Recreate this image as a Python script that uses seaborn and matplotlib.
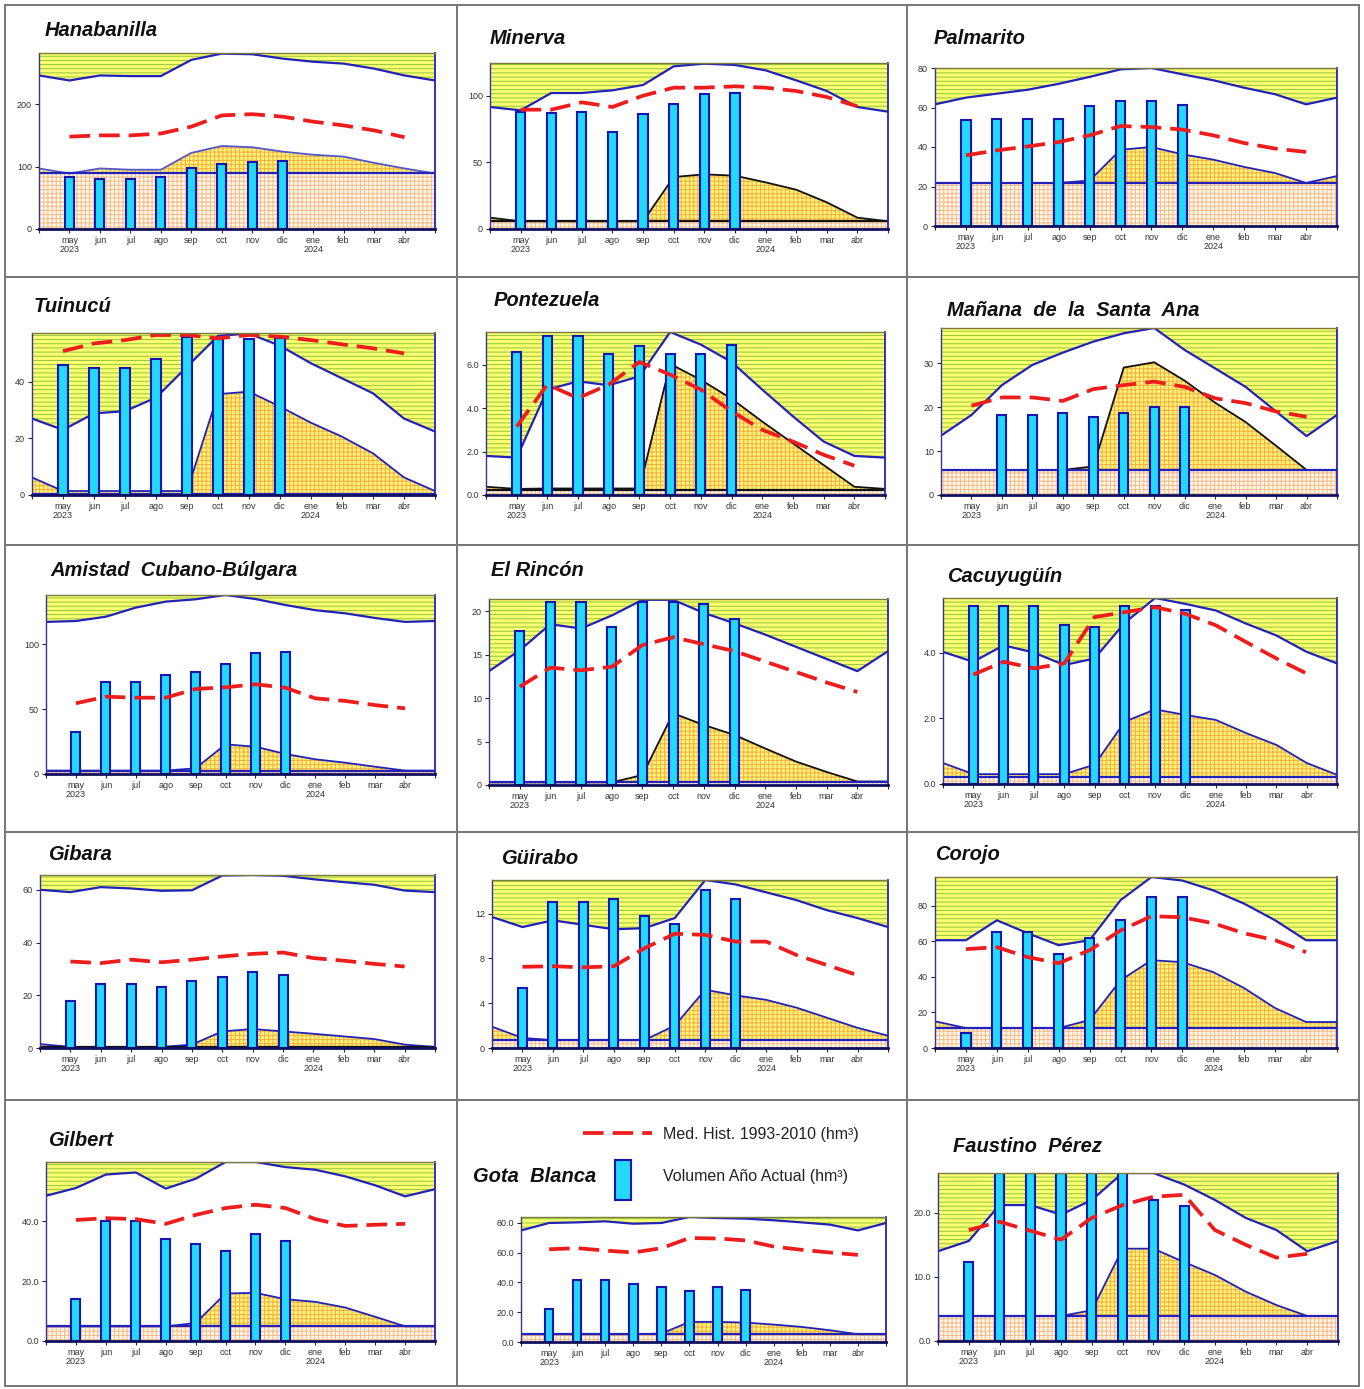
import numpy as np
import matplotlib
matplotlib.use("Agg")
import matplotlib.pyplot as plt
import seaborn as sns
from matplotlib.patches import Rectangle
from matplotlib.lines import Line2D

W, H = 1364, 1389

# month labels (may 2023 .. abr 2024); curves have an extra point at each plot edge
months = ["may\n2023", "jun", "jul", "ago", "sep", "oct", "nov", "dic",
          "ene\n2024", "feb", "mar", "abr"]

# ---- data (hm3) ----
hanabanilla_upper = [246, 238, 246, 245, 245, 271, 281, 280, 273, 268, 265, 257, 246, 238]
hanabanilla_lower = [97, 89, 97, 95, 95, 122, 133, 131, 124, 119, 116, 106, 97, 89]
hanabanilla_median = [148, 150, 150, 153, 164, 182, 184, 180, 172, 166, 158, 147]
hanabanilla_bars = [84, 80, 80, 84, 97, 104, 108, 109]
hanabanilla_dead = 89

minerva_upper = [91.5, 89, 102, 102, 104, 108, 122, 124, 123, 119, 111.5, 103.5, 91.5, 88]
minerva_lower = [8.5, 5.8, 5.8, 5.8, 5.8, 5.8, 39, 41, 40, 35, 29.5, 20, 8.5, 5.8]
minerva_median = [89.5, 89.5, 95, 91.5, 100, 106, 106, 107, 106, 103.5, 99, 92]
minerva_bars = [88, 87, 87.5, 73, 86, 94, 101, 102]
minerva_dead = 5.8

palmarito_upper = [61.6, 65, 67, 69, 72, 75.5, 79.3, 80, 76.8, 73.8, 70, 66.7, 61.6, 65]
palmarito_lower = [21.8, 21.8, 21.8, 21.8, 21.8, 23, 38.6, 40, 36.3, 33.6, 29.9, 26.8, 21.8, 25.3]
palmarito_median = [35.8, 38.3, 40.3, 42.5, 45.9, 50.6, 50.1, 48.8, 45.9, 42, 39.2, 37.5]
palmarito_bars = [53.5, 54, 54, 54, 60.6, 63.1, 63.3, 61.4]
palmarito_dead = 21.8

tuinucu_upper = [27, 23, 28.8, 29.6, 34.4, 45.3, 56.2, 57, 52.7, 46.5, 41.2, 35.9, 27, 22.4]
tuinucu_lower = [6.2, 1.4, 1.4, 1.4, 1.4, 1.4, 35.6, 36.5, 31.2, 25.5, 20.6, 14.7, 6.2, 1.4]
tuinucu_median = [50.8, 53.5, 54.7, 56.5, 56.5, 55.3, 56.5, 55.9, 54.7, 53.2, 51.8, 50]
tuinucu_bars = [45.9, 45, 45, 48, 55.9, 55, 55, 55.3]
tuinucu_dead = 0.3

pontezuela_upper = [1.8, 1.72, 4.85, 5.23, 5.05, 5.46, 7.5, 6.92, 6.12, 4.85, 3.62, 2.46, 1.8, 1.72]
pontezuela_lower = [0.38, 0.28, 0.3, 0.3, 0.3, 0.3, 6.03, 5.3, 4.43, 3.38, 2.38, 1.38, 0.38, 0.28]
pontezuela_median = [3.15, 5.08, 4.46, 5.08, 6.12, 5.54, 4.85, 3.85, 3.0, 2.46, 1.85, 1.35]
pontezuela_bars = [6.57, 7.3, 7.3, 6.49, 6.85, 6.49, 6.49, 6.89]
pontezuela_dead = 0.25

manana_upper = [13.5, 18.2, 25, 29.6, 32.4, 34.9, 36.8, 38, 33, 28.8, 24.6, 19, 13.4, 18.2]
manana_lower = [5.7, 5.7, 5.7, 5.7, 5.7, 6.5, 29, 30.2, 26, 21, 16.6, 11.2, 5.7, 5.7]
manana_median = [20.3, 22.2, 22.2, 21.4, 24.1, 25, 25.8, 24.6, 22, 20.9, 19, 17.8]
manana_bars = [np.nan, 18.2, 18.2, 18.6, 17.8, 18.6, 20.1, 20.1]
manana_dead = 5.7

amistad_upper = [117, 117.7, 121, 128, 132.6, 134.4, 137.7, 134.6, 130, 126, 123.6, 120, 117, 117.7]
amistad_lower = [2.6, 2.6, 2.6, 2.6, 2.6, 4.4, 22.8, 21, 15.4, 11.3, 8.7, 5.6, 2.6, 2.6]
amistad_median = [54.4, 59.5, 58.7, 58.7, 65.4, 66.7, 69, 66.4, 58.2, 56.2, 53, 50.5]
amistad_bars = [32, 71, 71, 76, 78.7, 85, 93, 93.6]
amistad_dead = 2.6

rincon_upper = [13.1, 15.5, 18.5, 18, 19.5, 21.3, 21.3, 19.8, 18.6, 17.3, 15.9, 14.5, 13.1, 15.4]
rincon_lower = [0.3, 0.3, 0.3, 0.3, 0.3, 1.15, 8.25, 6.9, 5.76, 4.2, 2.7, 1.5, 0.4, 0.4]
rincon_median = [11.3, 13.5, 13.2, 13.6, 16.1, 17, 16.2, 15.4, 14.2, 13, 11.8, 10.7]
rincon_bars = [17.7, 21, 21, 18.2, 21, 21, 20.8, 19.1]
rincon_dead = 0.3

cacuyuguin_upper = [4.02, 3.72, 4.22, 4.0, 3.62, 3.82, 4.91, 5.66, 5.48, 5.28, 4.88, 4.52, 4.02, 3.67]
cacuyuguin_lower = [0.64, 0.3, 0.3, 0.3, 0.3, 0.59, 1.9, 2.27, 2.1, 1.95, 1.55, 1.19, 0.64, 0.28]
cacuyuguin_median = [3.33, 3.72, 3.52, 3.67, 5.08, 5.23, 5.38, 5.18, 4.83, 4.32, 3.82, 3.36]
cacuyuguin_bars = [5.41, 5.41, 5.41, 4.83, 4.77, 5.41, 5.41, 5.31]
cacuyuguin_dead = 0.22

gibara_upper = [60, 59.1, 61, 60.5, 59.6, 59.8, 65.4, 65.6, 65.3, 64, 62.9, 61.9, 59.7, 59.1]
gibara_lower = [1.5, 0.4, 0.4, 0.4, 0.4, 1.3, 6.3, 7.2, 6.3, 5.4, 4.4, 3.4, 1.3, 0.4]
gibara_median = [32.8, 32.2, 33.5, 32.5, 33.5, 34.7, 35.7, 36.2, 34.1, 33.1, 31.9, 30.9]
gibara_bars = [17.9, 24.4, 24.4, 23, 25.5, 27.1, 28.8, 27.5]
gibara_dead = 0.3

guirabo_upper = [11.7, 10.8, 11.4, 11.0, 10.6, 10.7, 11.6, 15.0, 14.6, 13.9, 13.2, 12.3, 11.6, 10.8]
guirabo_lower = [1.9, 0.9, 0.7, 0.7, 0.7, 0.7, 2.0, 5.2, 4.7, 4.3, 3.6, 2.7, 1.8, 1.1]
guirabo_median = [7.25, 7.3, 7.2, 7.3, 8.9, 10.2, 10.1, 9.5, 9.5, 8.3, 7.4, 6.5]
guirabo_bars = [5.4, 13, 13, 13.3, 11.8, 11.1, 14.1, 13.3]
guirabo_dead = 0.7

corojo_upper = [60.5, 60.5, 71.7, 64.4, 57.7, 60.5, 83, 96, 94, 88.5, 81, 71.7, 60.5, 60.5]
corojo_lower = [15, 11.2, 11.2, 11.2, 11.2, 15.7, 38, 49.3, 48.2, 42.6, 33.6, 22.4, 14.6, 14.6]
corojo_median = [55.5, 56.6, 51, 47.6, 54.9, 66, 74, 73.4, 70, 64.4, 60.5, 53.8]
corojo_bars = [8.4, 65, 65, 52.7, 62, 71.7, 84.6, 84.6]
corojo_dead = 11.2

gilbert_upper = [48.6, 51.2, 55.7, 56.4, 51, 54.3, 59.9, 59.9, 58.2, 57.3, 55.1, 52.1, 48.4, 50.8]
gilbert_lower = [4.9, 4.9, 4.9, 4.9, 4.9, 6.0, 15.9, 16.1, 14, 13.1, 11.2, 8.1, 4.9, 4.9]
gilbert_median = [40.5, 41.1, 40.8, 39.2, 42.2, 44.5, 45.6, 44.5, 40.8, 38.5, 38.9, 39.2]
gilbert_bars = [14.2, 40.3, 40.3, 34, 32.4, 30.2, 35.8, 33.5]
gilbert_dead = 4.9

gota_upper = [74.8, 79.8, 80.2, 80.9, 79.3, 79.8, 83.8, 83.1, 82.7, 81.6, 80.2, 78.7, 74.8, 79.8]
gota_lower = [5.2, 5.2, 5.2, 5.2, 5.2, 5.6, 13.5, 13.5, 13, 11.7, 10.1, 7.9, 5.2, 5.2]
gota_median = [62.2, 62.9, 61.3, 60, 62.9, 69.7, 69.4, 68.1, 64, 61.8, 60, 58.4]
gota_bars = [22.2, 41.6, 41.6, 38.6, 36.6, 34.2, 36.6, 34.8]
gota_dead = 5.2

faustino_upper = [14, 15.6, 21.2, 21.2, 19.7, 22, 26.2, 26.2, 24.4, 22, 19.2, 17.3, 14, 15.6]
faustino_lower = [3.9, 3.9, 3.9, 3.9, 3.9, 4.8, 14.4, 14.4, 12.3, 10.3, 7.7, 5.6, 3.9, 3.9]
faustino_median = [17.3, 18.6, 17.2, 15.8, 19.2, 21.2, 22.5, 22.8, 17.3, 15, 13, 13.6]
faustino_bars = [12.3, 26.5, 26.5, 26.5, 26.5, 26.5, 22, 21]
faustino_dead = 3.9

names = ["Hanabanilla", "Minerva", "Palmarito", "Tuinucú", "Pontezuela",
         "Mañana  de  la  Santa  Ana", "Amistad  Cubano-Búlgara", "El Rincón",
         "Cacuyugüín", "Gibara", "Güirabo", "Corojo", "Gilbert", "Gota  Blanca",
         "Faustino  Pérez"]

series = [
    (hanabanilla_upper, hanabanilla_lower, hanabanilla_median, hanabanilla_bars, hanabanilla_dead),
    (minerva_upper, minerva_lower, minerva_median, minerva_bars, minerva_dead),
    (palmarito_upper, palmarito_lower, palmarito_median, palmarito_bars, palmarito_dead),
    (tuinucu_upper, tuinucu_lower, tuinucu_median, tuinucu_bars, tuinucu_dead),
    (pontezuela_upper, pontezuela_lower, pontezuela_median, pontezuela_bars, pontezuela_dead),
    (manana_upper, manana_lower, manana_median, manana_bars, manana_dead),
    (amistad_upper, amistad_lower, amistad_median, amistad_bars, amistad_dead),
    (rincon_upper, rincon_lower, rincon_median, rincon_bars, rincon_dead),
    (cacuyuguin_upper, cacuyuguin_lower, cacuyuguin_median, cacuyuguin_bars, cacuyuguin_dead),
    (gibara_upper, gibara_lower, gibara_median, gibara_bars, gibara_dead),
    (guirabo_upper, guirabo_lower, guirabo_median, guirabo_bars, guirabo_dead),
    (corojo_upper, corojo_lower, corojo_median, corojo_bars, corojo_dead),
    (gilbert_upper, gilbert_lower, gilbert_median, gilbert_bars, gilbert_dead),
    (gota_upper, gota_lower, gota_median, gota_bars, gota_dead),
    (faustino_upper, faustino_lower, faustino_median, faustino_bars, faustino_dead),
]

# ---- layout: plot box in pixels (x0, y0, x1, y1), y range, ticks, title position ----
BLUE = "#2222BB"
LBLUE = "#5555CC"
BLACK = "#111111"
layout = [
    dict(box=(39, 53, 435, 229), ymax=282, ticks=[0, 100, 200], fmt="{:.0f}", title=(45, 30), lc=LBLUE, dc=BLUE),
    dict(box=(490, 63, 888, 229), ymax=124.5, ticks=[0, 50, 100], fmt="{:.0f}", title=(490, 38), lc=BLACK, dc=BLACK),
    dict(box=(935, 68, 1337, 226), ymax=80, ticks=[0, 20, 40, 60, 80], fmt="{:.0f}", title=(934, 39), lc=BLUE, dc=BLUE),
    dict(box=(32, 333, 435, 495), ymax=57.2, ticks=[0, 20, 40], fmt="{:.0f}", title=(34, 307), lc=BLUE, dc=BLUE),
    dict(box=(486, 332, 885, 495), ymax=7.5, ticks=[0, 2, 4, 6], fmt="{:.1f}", title=(494, 300), lc=BLACK, dc=BLACK),
    dict(box=(941, 328, 1337, 495), ymax=38, ticks=[0, 10, 20, 30], fmt="{:.0f}", title=(947, 310), lc=BLACK, dc=BLUE),
    dict(box=(46, 595, 435, 774), ymax=137.7, ticks=[0, 50, 100], fmt="{:.0f}", title=(50, 571), lc=BLUE, dc=BLUE),
    dict(box=(489, 599, 888, 785), ymax=21.4, ticks=[0, 5, 10, 15, 20], fmt="{:.0f}", title=(491, 571), lc=BLACK, dc=BLUE),
    dict(box=(943, 598, 1337, 784), ymax=5.66, ticks=[0, 2, 4], fmt="{:.1f}", title=(947, 576), lc=BLUE, dc=BLUE),
    dict(box=(40, 875, 435, 1048), ymax=65.6, ticks=[0, 20, 40, 60], fmt="{:.0f}", title=(48, 855), lc=BLUE, dc=BLACK),
    dict(box=(492, 880, 888, 1048), ymax=15, ticks=[0, 4, 8, 12], fmt="{:.0f}", title=(501, 858), lc=BLUE, dc=BLUE),
    dict(box=(935, 877, 1337, 1048), ymax=96, ticks=[0, 20, 40, 60, 80], fmt="{:.0f}", title=(935, 855), lc=BLUE, dc=BLUE),
    dict(box=(46, 1162, 435, 1341), ymax=59.9, ticks=[0, 20, 40], fmt="{:.1f}", title=(48, 1140), lc=BLUE, dc=BLUE),
    dict(box=(521, 1217, 886, 1342), ymax=83.8, ticks=[0, 20, 40, 60, 80], fmt="{:.1f}", title=(473, 1177), lc=BLUE, dc=BLUE),
    dict(box=(938, 1173, 1338, 1341), ymax=26.2, ticks=[0, 10, 20], fmt="{:.1f}", title=(953, 1146), lc=BLUE, dc=BLUE),
]

sns.set_style("white")
plt.rcParams["font.family"] = ["Liberation Sans", "DejaVu Sans"]
plt.rcParams["hatch.linewidth"] = 0.7

fig = plt.figure(figsize=(W / 100, H / 100), dpi=100)
fig.patch.set_facecolor("white")

# panel frames
col_edges = [5, 457, 907, 1359]
row_edges = [5, 277, 545, 832, 1100, 1386]
for r in range(5):
    for c in range(3):
        x0, x1 = col_edges[c], col_edges[c + 1]
        y0, y1 = row_edges[r], row_edges[r + 1]
        fig.add_artist(Rectangle((x0 / W, 1 - y1 / H), (x1 - x0) / W, (y1 - y0) / H,
                                 transform=fig.transFigure, fill=False,
                                 edgecolor="#777777", lw=1.4, zorder=0))

xs = np.arange(14)
xm = np.arange(1, 13)

for name, (upper, lower, median, bars, dead), st in zip(names, series, layout):
    x0, y0, x1, y1 = st["box"]
    ax = fig.add_axes([x0 / W, 1 - y1 / H, (x1 - x0) / W, (y1 - y0) / H])
    ymax = st["ymax"]
    upper = np.asarray(upper, float)
    lower = np.asarray(lower, float)

    # background bands: green-striped yellow above the upper curve, white below it
    ax.set_facecolor("#FFFF70")
    ax.fill_between([0, 13], 0, ymax, facecolor="none", edgecolor="#8DC63F",
                    hatch="----", lw=0, zorder=0.5)
    ax.fill_between(xs, 0, upper, color="white", lw=0, zorder=1)
    # dead volume and lower band, orange grid
    ax.fill_between(xs, 0, dead, facecolor="#FFF6EC", edgecolor="#F7BC84",
                    hatch="++++", lw=0, zorder=1.5)
    ax.fill_between(xs, dead, np.maximum(lower, dead), facecolor="#FFF27A",
                    edgecolor="#F3B040", hatch="++++", lw=0, zorder=1.6)

    sns.lineplot(x=xs, y=upper, color=BLUE, lw=1.6, estimator=None, errorbar=None,
                 sort=False, ax=ax, zorder=3)
    sns.lineplot(x=xs, y=lower, color=st["lc"], lw=1.3, estimator=None, errorbar=None,
                 sort=False, ax=ax, zorder=3)
    ax.axhline(dead, color=st["dc"], lw=1.6, zorder=3.1)

    bv = np.asarray(bars, float)
    bx = np.arange(1, len(bv) + 1)
    ok = ~np.isnan(bv)
    sns.barplot(x=bx[ok], y=bv[ok], native_scale=True, width=0.3, color="#22DAF8",
                saturation=1, edgecolor="#1515B5", linewidth=1.5, errorbar=None,
                ax=ax, zorder=5)

    sns.lineplot(x=xm, y=median, color="#EE1C1C", lw=2.7, ls=(0, (5.5, 2.4)),
                 estimator=None, errorbar=None, sort=False, ax=ax, zorder=6)

    ax.set_xlim(0, 13)
    ax.set_ylim(0, ymax)
    ax.set_xlabel("")
    ax.set_ylabel("")
    ax.set_xticks(xm)
    ax.set_xticklabels(months, fontsize=6.5, color="#333333", linespacing=1.0)
    ax.set_xticks([0, 13], minor=True)
    ax.set_yticks(st["ticks"])
    ax.set_yticklabels([st["fmt"].format(t) for t in st["ticks"]], fontsize=6.5, color="#333333")
    ax.tick_params(axis="x", which="both", length=3, width=0.8, pad=2, bottom=True, direction="out")
    ax.tick_params(axis="y", length=3, width=0.8, pad=2, left=True, direction="out")
    for side, col, lw in [("left", "#33339A", 1.0), ("right", BLUE, 1.3),
                          ("top", "#7A7A40", 1.0), ("bottom", "#101060", 2.0)]:
        ax.spines[side].set_visible(True)
        ax.spines[side].set_color(col)
        ax.spines[side].set_linewidth(lw)
        ax.spines[side].set_zorder(7)

    tx, ty = st["title"]
    fig.text(tx / W, 1 - ty / H, name, fontsize=14.5, fontweight="bold", fontstyle="italic",
             ha="left", va="center", color="#111111")

# legend inside the Gota Blanca panel
fig.add_artist(Line2D([583 / W, 652 / W], [1 - 1133 / H] * 2, transform=fig.transFigure,
                      color="#EE1C1C", lw=2.7, ls=(0, (5.5, 2.4))))
fig.add_artist(Rectangle((615 / W, 1 - 1200 / H), 16 / W, 40 / H, transform=fig.transFigure,
                         facecolor="#22DAF8", edgecolor="#1515B5", lw=1.5))
fig.text(663 / W, 1 - 1135 / H, "Med. Hist. 1993-2010 (hm³)", fontsize=11.5,
         ha="left", va="center", color="#222222")
fig.text(663 / W, 1 - 1177 / H, "Volumen Año Actual (hm³)", fontsize=11.5,
         ha="left", va="center", color="#222222")

fig.savefig("out.png", dpi=100, facecolor="white")
